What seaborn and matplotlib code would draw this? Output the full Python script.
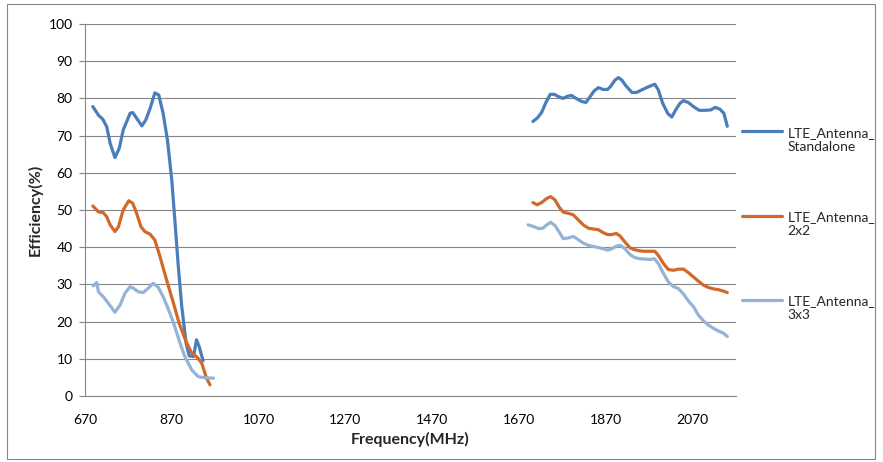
import numpy as np
import pandas as pd
import matplotlib
matplotlib.use("Agg")
import matplotlib.pyplot as plt
import seaborn as sns
from matplotlib.patches import Rectangle
from matplotlib.legend_handler import HandlerLine2D

# series names as shown in the legend (wrapped like the original)
names = ["LTE_Antenna_\nStandalone", "LTE_Antenna_\n2x2", "LTE_Antenna_\n3x3"]
colors = ["#4A7EBB", "#D2692B", "#95B3D7"]

# --- low band (about 690-960 MHz) ---
sa_low_f = [688, 701, 711, 720, 728, 739, 749, 758, 774, 780, 801, 810, 820, 831, 840,
            850, 860, 870, 877, 885, 893, 903, 910, 920, 927, 933, 942]
sa_low_v = [77.8, 75.5, 74.4, 72.4, 67.9, 64.1, 66.6, 71.5, 76.0, 76.2, 72.6, 74.2, 77.3, 81.5, 80.9,
            76.0, 68.8, 58.0, 47.3, 34.8, 24.0, 14.2, 10.8, 10.6, 15.1, 13.3, 9.5]

m2_low_f = [688, 701, 712, 720, 728, 739, 747, 758, 771, 780, 789, 799, 808, 820, 831,
            843, 858, 874, 887, 903, 916, 927, 939, 950, 958]
m2_low_v = [51.1, 49.5, 49.3, 48.2, 46.0, 44.2, 45.5, 50.0, 52.5, 51.8, 49.1, 45.5, 44.2, 43.5, 41.9,
            37.4, 31.2, 24.9, 19.5, 14.6, 11.5, 10.6, 8.8, 4.8, 3.0]

m3_low_f = [689, 697, 701, 712, 724, 739, 751, 762, 774, 781, 793, 804, 816, 827, 839,
            850, 866, 877, 889, 900, 916, 931, 947, 966]
m3_low_v = [29.6, 30.5, 28.0, 26.7, 24.9, 22.5, 24.5, 27.6, 29.4, 29.0, 28.0, 27.8, 29.0, 30.3, 29.2,
            26.7, 22.2, 18.6, 14.2, 10.6, 7.0, 5.2, 4.9, 4.8]

# --- high band (about 1690-2150 MHz) ---
sa_high_f = [1702, 1712, 1722, 1732, 1742, 1751, 1761, 1771, 1780, 1791, 1803, 1814, 1824, 1834,
             1843, 1853, 1864, 1874, 1881, 1891, 1899, 1907, 1917, 1930, 1941, 1953, 1964, 1976,
             1983, 1991, 2001, 2013, 2022, 2032, 2041, 2049, 2060, 2072, 2085, 2099, 2112, 2122,
             2133, 2142, 2150]
sa_high_v = [73.8, 74.7, 76.2, 78.9, 81.1, 81.1, 80.5, 80.0, 80.5, 80.8, 79.9, 79.2, 78.9, 80.5,
             82.0, 82.9, 82.4, 82.4, 83.2, 84.9, 85.6, 84.9, 83.3, 81.6, 81.6, 82.3, 82.9, 83.5,
             83.8, 82.3, 78.7, 75.9, 75.0, 77.1, 78.7, 79.4, 78.9, 77.8, 76.8, 76.8, 76.9, 77.6,
             77.1, 76.0, 72.5]

m2_high_f = [1702, 1712, 1722, 1734, 1743, 1753, 1763, 1772, 1784, 1795, 1807, 1818, 1830, 1841,
             1853, 1864, 1874, 1884, 1894, 1903, 1914, 1926, 1937, 1949, 1960, 1972, 1983, 1991,
             2003, 2014, 2026, 2037, 2049, 2060, 2072, 2083, 2095, 2106, 2118, 2129, 2141, 2150]
m2_high_v = [52.0, 51.4, 52.0, 53.1, 53.6, 52.7, 50.7, 49.4, 49.1, 48.7, 47.3, 46.0, 45.1, 44.9,
             44.7, 43.9, 43.4, 43.4, 43.7, 43.0, 41.4, 39.8, 39.3, 39.0, 38.9, 38.9, 38.9, 37.8,
             35.6, 34.0, 33.8, 34.1, 34.1, 33.2, 32.0, 30.9, 29.8, 29.2, 28.8, 28.6, 28.2, 27.8]

m3_high_f = [1691, 1703, 1715, 1725, 1734, 1743, 1753, 1763, 1772, 1784, 1795, 1807, 1818, 1830,
             1841, 1853, 1864, 1874, 1884, 1895, 1904, 1914, 1926, 1937, 1949, 1960, 1972, 1982,
             1991, 2003, 2014, 2026, 2037, 2049, 2060, 2072, 2083, 2095, 2106, 2118, 2129, 2141,
             2150]
m3_high_v = [46.0, 45.6, 45.0, 45.1, 46.0, 46.7, 45.8, 44.0, 42.3, 42.5, 42.9, 42.0, 41.1, 40.5,
             40.2, 39.9, 39.6, 39.2, 39.6, 40.3, 40.5, 39.6, 38.0, 37.2, 36.9, 36.8, 36.7, 36.9,
             35.6, 32.9, 30.7, 29.4, 28.9, 27.4, 25.6, 24.0, 21.8, 20.2, 19.1, 18.2, 17.5, 16.9,
             16.0]

x_ticks = [670, 870, 1070, 1270, 1470, 1670, 1870, 2070]
y_ticks = list(range(0, 101, 10))

rows = []
parts = [
    (names[0], "low", sa_low_f, sa_low_v), (names[0], "high", sa_high_f, sa_high_v),
    (names[1], "low", m2_low_f, m2_low_v), (names[1], "high", m2_high_f, m2_high_v),
    (names[2], "low", m3_low_f, m3_low_v), (names[2], "high", m3_high_f, m3_high_v),
]
for name, band, f, v in parts:
    for a, b in zip(f, v):
        rows.append({"series": name, "band": band, "freq": a, "eff": b})
df = pd.DataFrame(rows)


# legend line sits next to the first text line, like in Excel
class TopLine(HandlerLine2D):
    def create_artists(self, legend, orig_handle, xdescent, ydescent, width, height,
                       fontsize, trans):
        artists = super().create_artists(legend, orig_handle, xdescent, ydescent, width,
                                         height, fontsize, trans)
        for a in artists:
            a.set_ydata(np.asarray(a.get_ydata()) + 0.6 * fontsize)
        return artists


sns.set_theme(style="white")
plt.rcParams["font.family"] = ["Lato", "DejaVu Sans"]

fig = plt.figure(figsize=(8.83, 4.62), dpi=100)
ax = fig.add_axes([85 / 883, 1 - 396 / 462, (736 - 85) / 883, (396 - 24) / 462])

sns.lineplot(data=df, x="freq", y="eff", hue="series", units="band", estimator=None,
             palette=dict(zip(names, colors)), hue_order=names, sort=False,
             linewidth=2.3, ax=ax)

grid_c = "#868686"
ax.set_xlim(670, 2170)
ax.set_ylim(0, 100)
ax.set_xticks(x_ticks)
ax.set_yticks(y_ticks)
ax.yaxis.grid(True, color=grid_c, linewidth=0.8)
ax.xaxis.grid(False)
ax.set_axisbelow(True)
for s in ["top", "right"]:
    ax.spines[s].set_visible(False)
for s in ["left", "bottom"]:
    ax.spines[s].set_color(grid_c)
    ax.spines[s].set_linewidth(0.8)
ax.tick_params(axis="y", left=True, length=4, width=0.8, color=grid_c, pad=5,
               labelsize=10, labelcolor="black")
ax.tick_params(axis="x", bottom=False, pad=7, labelsize=10, labelcolor="black")

ax.set_xlabel("Frequency(MHz)", fontsize=11.5, fontweight="bold", labelpad=4)
ax.set_ylabel("Efficiency(%)", fontsize=11.5, fontweight="bold", labelpad=4)

handles, labels = ax.get_legend_handles_labels()
ax.get_legend().remove()
fig.legend(handles, labels, loc="upper left", bbox_to_anchor=(736 / 883, 1 - 121 / 462),
           frameon=False, fontsize=10, handlelength=2.9, handletextpad=0.4,
           labelspacing=4.2, borderaxespad=0,
           handler_map={h: TopLine() for h in handles})

fig.patches.append(Rectangle((7 / 883, 3 / 462), 868 / 883, 455 / 462,
                             transform=fig.transFigure, fill=False,
                             edgecolor=grid_c, linewidth=0.8))

fig.savefig("out.png", dpi=100)
